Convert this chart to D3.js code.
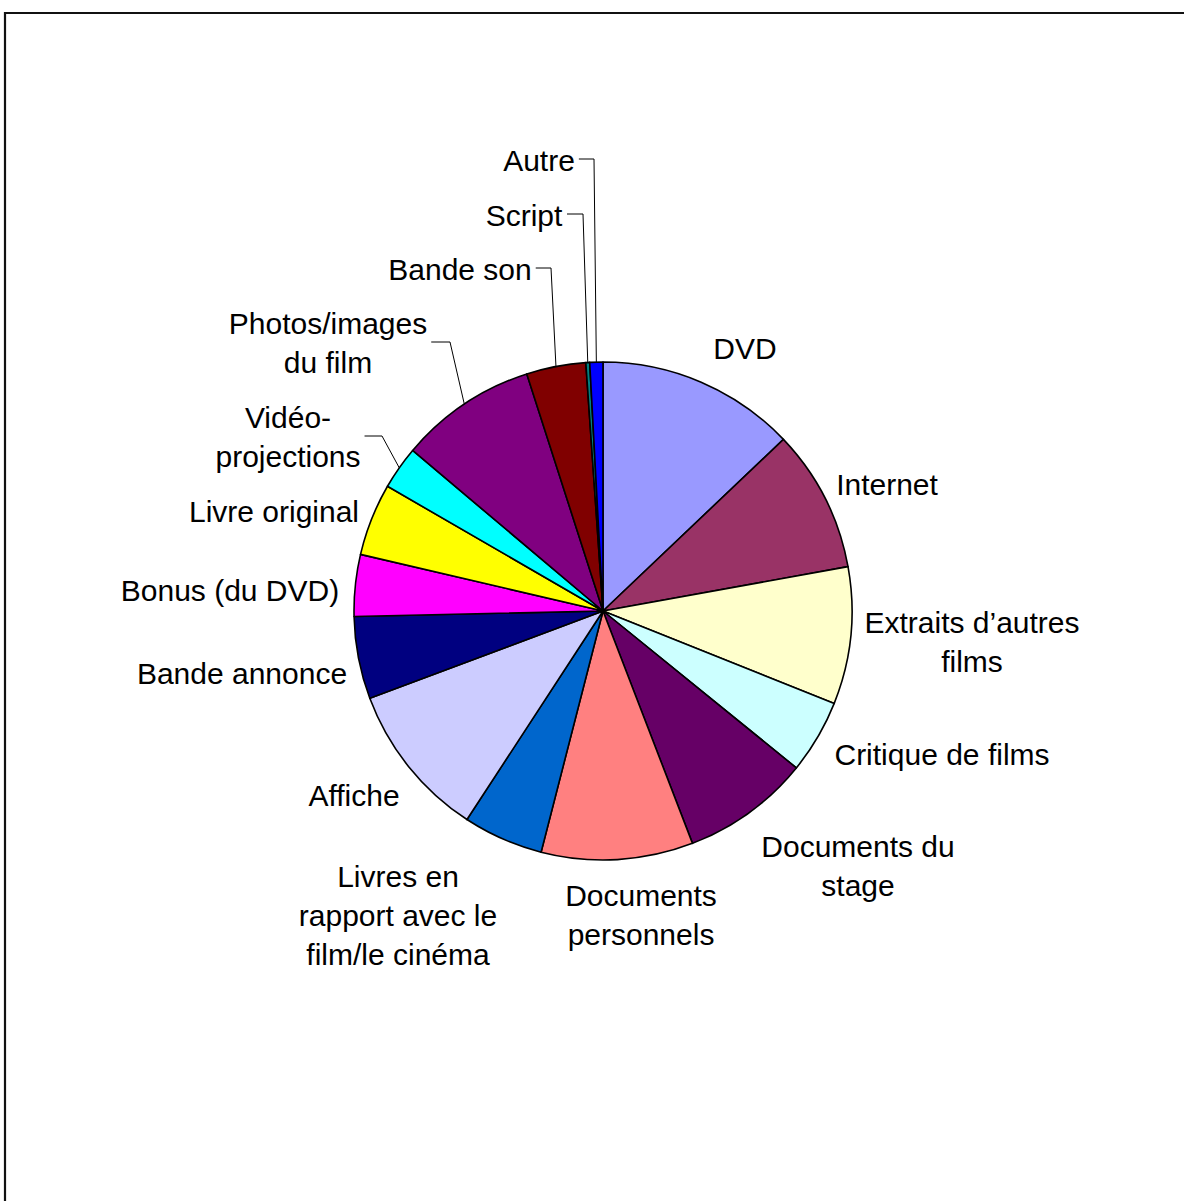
<!DOCTYPE html>
<html>
<head>
<meta charset="utf-8">
<script src="https://cdn.jsdelivr.net/npm/d3@7"></script>
<style>
  html, body { margin: 0; padding: 0; background: #fff; }
  svg { display: block; }
  text { font-family: "Liberation Sans", Arial, sans-serif; }
</style>
</head>
<body>
<svg id="chart" width="1184" height="1201"></svg>
<script>
// ---- data ----
const categories = [
  "DVD", "Internet", "Extraits d’autres films", "Critique de films",
  "Documents du stage", "Documents personnels",
  "Livres en rapport avec le film/le cinéma", "Affiche", "Bande annonce",
  "Bonus (du DVD)", "Livre original", "Vidéo-projections",
  "Photos/images du film", "Bande son", "Script", "Autre"
];
const values = [12.9, 9.25, 8.9, 4.8, 8.3, 9.85, 5.2, 10.1, 5.35, 4.0, 4.7, 2.8, 8.9, 3.85, 0.25, 0.85];
const labelLines = [
  ["DVD"], ["Internet"], ["Extraits d’autres", "films"], ["Critique de films"],
  ["Documents du", "stage"], ["Documents", "personnels"],
  ["Livres en", "rapport avec le", "film/le cinéma"], ["Affiche"], ["Bande annonce"],
  ["Bonus (du DVD)"], ["Livre original"], ["Vidéo-", "projections"],
  ["Photos/images", "du film"], ["Bande son"], ["Script"], ["Autre"]
];
const colors = [
  "#9999FF", "#993366", "#FFFFCC", "#CCFFFF", "#660066", "#FF8080",
  "#0066CC", "#CCCCFF", "#000080", "#FF00FF", "#FFFF00", "#00FFFF",
  "#800080", "#800000", "#008080", "#0000FF"
];

// ---- layout ----
const cx = 603, cy = 611, R = 249;
const fontSize = 30, lineH = 39;
// label block centers relative to pie center
const labelOffsets = [
  [142, -263], [284, -127], [369, 31], [339, 143], [255, 255], [38, 304],
  [-205, 304], [-249, 184], [-361, 62], [-373, -21], [-329, -100], [-315, -174],
  [-275, -268], [-143, -342], [-79, -396], [-64, -451]
];
// leader knee x (relative to centre) for labels with leader lines
const leaderKnee = {12: -153, 11: -221, 13: -52, 14: -20, 15: -9};

const svg = d3.select("#chart");

// frame
svg.append("path")
  .attr("d", "M5,1201 V13 H1184")
  .attr("fill", "none").attr("stroke", "#111").attr("stroke-width", 2.2);

const g = svg.append("g").attr("transform", `translate(${cx},${cy})`);

const pie = d3.pie().sort(null).value(d => d).startAngle(0).endAngle(2 * Math.PI);
const arcs = pie(values);
const arc = d3.arc().innerRadius(0).outerRadius(R);

g.selectAll("path.slice").data(arcs).enter().append("path")
  .attr("class", "slice")
  .attr("d", arc)
  .attr("fill", (d, i) => colors[i])
  .attr("stroke", "#000").attr("stroke-width", 1.6)
  .attr("stroke-linejoin", "round");

// labels
const labels = g.selectAll("g.label").data(arcs).enter().append("g")
  .attr("class", "label")
  .attr("transform", (d, i) => `translate(${labelOffsets[i][0]},${labelOffsets[i][1]})`);

labels.each(function(d, i) {
  const lines = labelLines[i];
  const t = d3.select(this).append("text")
    .attr("text-anchor", "middle")
    .attr("font-size", fontSize)
    .attr("fill", "#000");
  const n = lines.length;
  lines.forEach((ln, k) => {
    t.append("tspan")
      .attr("x", 0)
      .attr("y", (k - (n - 1) / 2) * lineH + fontSize * 0.36)
      .text(ln);
  });
});

// leader lines
labels.each(function(d, i) {
  if (!(i in leaderKnee)) return;
  const bb = this.getBBox();
  const ox = labelOffsets[i][0], oy = labelOffsets[i][1];
  const startX = ox + bb.x + bb.width + 4;
  const ly = oy - 1;
  const mid = (d.startAngle + d.endAngle) / 2;
  const ex = Math.sin(mid) * R, ey = -Math.cos(mid) * R;
  g.append("path")
    .attr("d", `M${startX},${ly} H${leaderKnee[i]} L${ex},${ey}`)
    .attr("fill", "none").attr("stroke", "#000").attr("stroke-width", 1);
});
</script>
</body>
</html>
